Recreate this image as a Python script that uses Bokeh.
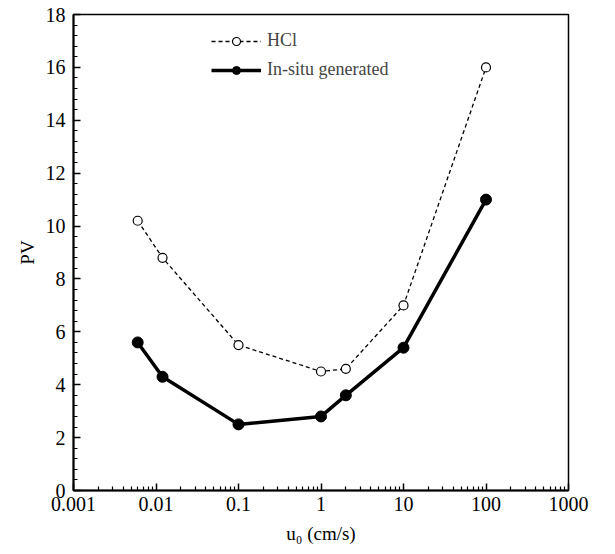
from bokeh.plotting import figure
from bokeh.models import FixedTicker, CustomJSTickFormatter, Range1d, Legend, LegendItem
from bokeh.embed import file_html
from bokeh.resources import INLINE

# Data
u0 = [0.006, 0.012, 0.1, 1, 2, 10, 100]
pv_hcl = [10.2, 8.8, 5.5, 4.5, 4.6, 7.0, 16.0]
pv_insitu = [5.6, 4.3, 2.5, 2.8, 3.6, 5.4, 11.0]
x_ticks = [0.001, 0.01, 0.1, 1, 10, 100, 1000]
y_ticks = [0, 2, 4, 6, 8, 10, 12, 14, 16, 18]

FONT = "Liberation Serif"

p = figure(width=600, height=546, x_axis_type="log",
           x_range=Range1d(0.001, 1000), y_range=Range1d(0, 18),
           output_backend="svg", toolbar_location=None,
           min_border_left=73, min_border_right=32, min_border_top=14, min_border_bottom=50)

p.grid.visible = False
p.outline_line_color = "black"
p.outline_line_width = 1.5

x_minor = [m * d for d in x_ticks[:-1] for m in range(2, 10)]
y_minor = [i * 0.4 for i in range(0, 46) if (i % 5) != 0]
p.xaxis.ticker = FixedTicker(ticks=x_ticks, minor_ticks=x_minor)
p.yaxis.ticker = FixedTicker(ticks=y_ticks, minor_ticks=y_minor)
p.xaxis.formatter = CustomJSTickFormatter(code="return tick.toString();")

for ax in (p.xaxis, p.yaxis):
    ax.axis_line_width = 2
    ax.axis_line_color = "black"
    ax.major_tick_in = 7
    ax.major_tick_out = 0
    ax.minor_tick_in = 4
    ax.minor_tick_out = 0
    ax.major_tick_line_width = 1.5
    ax.minor_tick_line_width = 1.2
    ax.major_label_text_font = FONT
    ax.major_label_text_font_size = "20px"
    ax.major_label_text_color = "black"
    ax.axis_label_text_font = FONT
    ax.axis_label_text_font_size = "19px"
    ax.axis_label_text_font_style = "normal"
    ax.axis_label_text_color = "black"

p.xaxis.axis_label = "u\u2080 (cm/s)"
p.yaxis.axis_label = "PV"
p.xaxis.major_label_standoff = 6
p.xaxis.axis_label_standoff = 9
p.yaxis.major_label_standoff = 8

l1 = p.line(u0, pv_hcl, line_color="black", line_width=1.3, line_dash="4 3")
c1 = p.scatter(u0, pv_hcl, size=9, marker="circle", fill_color="white", line_color="black", line_width=1.2)
l2 = p.line(u0, pv_insitu, line_color="black", line_width=3.5)
c2 = p.scatter(u0, pv_insitu, size=11, marker="circle", fill_color="black", line_color="black")

legend = Legend(items=[LegendItem(label="HCl", renderers=[l1, c1]),
                       LegendItem(label="In-situ generated", renderers=[l2, c2])],
                location=(138, 410), border_line_color=None, background_fill_alpha=0,
                padding=0, margin=0, spacing=8, glyph_width=50, glyph_height=20,
                label_height=20, label_standoff=6,
                label_text_font=FONT, label_text_font_size="18px")
p.add_layout(legend, "center")

open("out.html", "w").write(file_html(p, INLINE))
